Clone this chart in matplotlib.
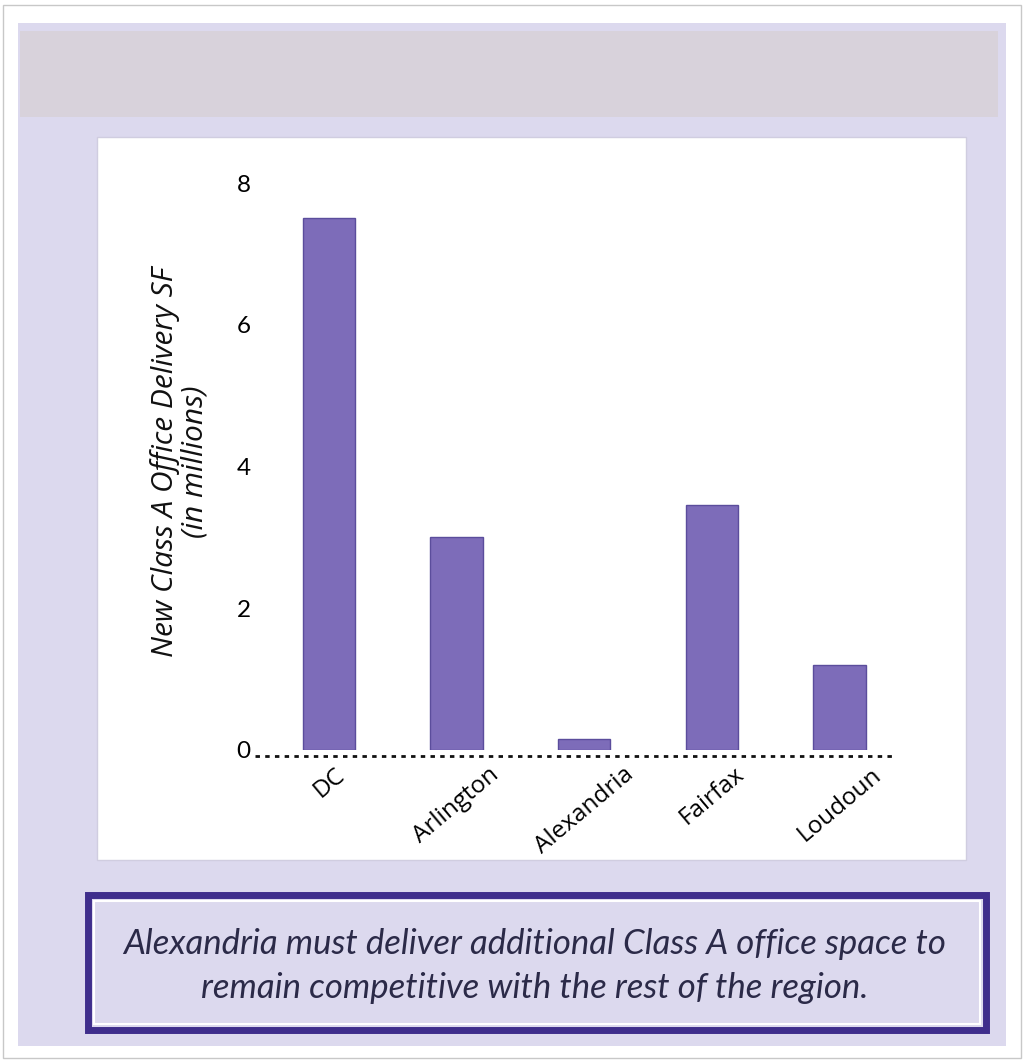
import matplotlib
matplotlib.use("Agg")
import matplotlib.pyplot as plt
from matplotlib.patches import Rectangle

categories = ["DC", "Arlington", "Alexandria", "Fairfax", "Loudoun"]
values = [7.5, 3.0, 0.15, 3.45, 1.2]
yticks = [0, 2, 4, 6, 8]
ylabel = "New Class A Office Delivery SF\n(in millions)"
caption = "Alexandria must deliver additional Class A office space to\nremain competitive with the rest of the region."

W, H = 1023, 1060
fig = plt.figure(figsize=(W / 100, H / 100), dpi=100)
fig.patch.set_facecolor("white")

def px_rect(x0, y0, x1, y1, **kw):
    r = Rectangle((x0 / W, 1 - y1 / H), (x1 - x0) / W, (y1 - y0) / H,
                  transform=fig.transFigure, zorder=-10, **kw)
    fig.patches.append(r)
    return r

# outer thin border
px_rect(3, 5, 1021, 1058, facecolor="none", edgecolor="#c8c8c8", lw=1)
# lavender background panel
px_rect(18, 23, 1006, 1046, facecolor="#dcd9ee", edgecolor="none")
# grey header band
px_rect(20, 31, 998, 117, facecolor="#d8d2db", edgecolor="none")
# white chart panel
px_rect(97, 137, 966, 860, facecolor="white", edgecolor="#d0cde0", lw=1)
# caption box
px_rect(88, 895, 986, 1030, facecolor="#dcd9ee", edgecolor="#3f2e8c", lw=5)
px_rect(94, 901, 980, 1024, facecolor="none", edgecolor="white", lw=1.5)

# chart axes: x from 255 to 893 px, y 0 at 750 px, 8 at 183 px
ax = fig.add_axes([255 / W, 1 - 750 / H, (893 - 255) / W, (750 - 183) / H])
ax.set_facecolor("none")
x = list(range(len(categories)))
ax.bar(x, values, width=0.41, color="#7d6cb9", edgecolor="#5b4d9c", lw=1, zorder=2)
ax.set_xlim(-0.58, 4.42)
ax.set_ylim(0, 8)
ax.axhline(-0.09, color="#111111", lw=2, ls=(0, (1.6, 1.9)), clip_on=False, zorder=3)
for s in ax.spines.values():
    s.set_visible(False)
ax.set_yticks(yticks)
ax.set_yticklabels([str(t) for t in yticks], fontsize=17.5, family="Lato")
ax.tick_params(axis="y", length=0, pad=3)
ax.set_xticks(x)
ax.set_xticklabels(categories, rotation=40, ha="center", va="top",
                   fontsize=17.5, family="Open Sans")
ax.tick_params(axis="x", length=0, pad=9)

fig.text(180 / W, 1 - 462 / H, ylabel, rotation=90, ha="center", va="center",
         fontsize=21.5, style="italic", family="Open Sans", color="#111111",
         linespacing=1.0)

fig.text(535 / W, 1 - 966 / H, caption, ha="center", va="center",
         fontsize=25, style="italic", family="Lato", color="#2b2a48",
         linespacing=1.45)

fig.savefig("out.png", dpi=100, facecolor="white")
